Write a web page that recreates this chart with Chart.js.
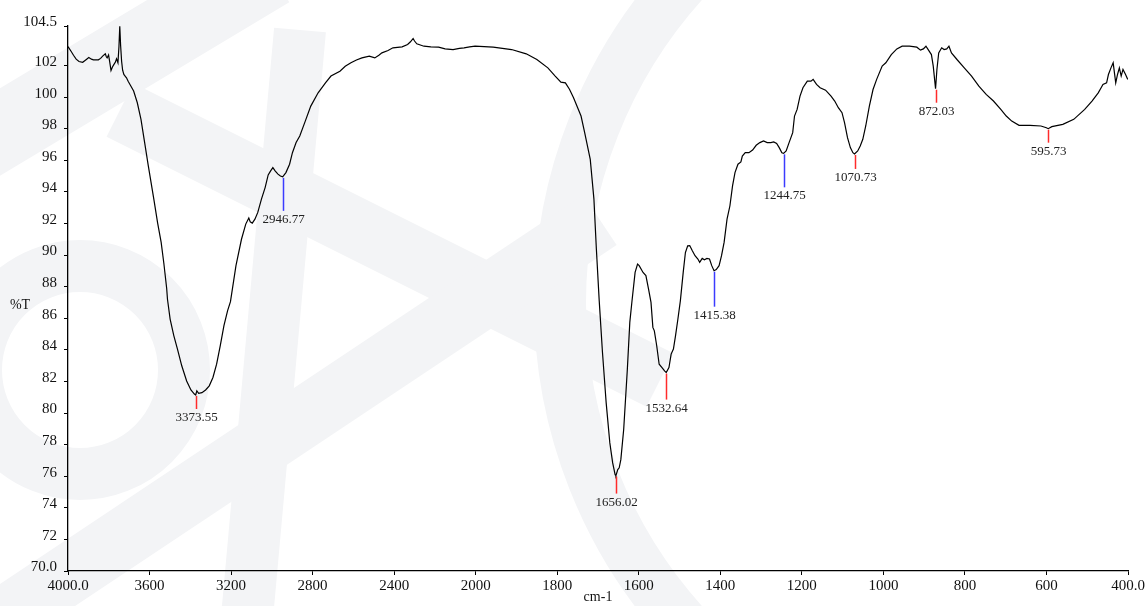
<!DOCTYPE html>
<html>
<head>
<meta charset="utf-8">
<script src="https://cdn.jsdelivr.net/npm/chart.js@4.4.1/dist/chart.umd.min.js"></script>
<style>
  html, body { margin: 0; padding: 0; background: #fff; }
  #wrap { width: 1148px; height: 606px; }
</style>
</head>
<body>
<div id="wrap"><canvas id="spectrum" width="1148" height="606"></canvas></div>
<script>
// IR spectrum: wavenumber (cm-1) and transmittance (%T)
const wavenumber = [
  4000, 3985, 3973, 3960, 3946, 3928, 3918, 3910, 3898, 3885, 3875, 3851, 3840, 3830, 3817, 3812, 3808, 3801,
  3795, 3789, 3782, 3776, 3768, 3762, 3755, 3750, 3746, 3742, 3737, 3732, 3726, 3718, 3713, 3705, 3696, 3678,
  3660, 3642, 3624, 3606, 3579, 3560, 3543, 3530, 3516, 3512, 3499, 3481, 3463, 3442, 3418, 3397, 3380, 3373.55,
  3368, 3359, 3343, 3325, 3307, 3289, 3271, 3253, 3235, 3217, 3203, 3176, 3149, 3128, 3113, 3106, 3096, 3083,
  3069, 3051, 3033, 3018, 3006, 2995, 2984, 2970, 2958, 2946.77, 2931, 2913, 2899, 2881, 2863, 2836, 2809, 2773,
  2737, 2710, 2666, 2640, 2612, 2585, 2558, 2522, 2495, 2475, 2460, 2430, 2406, 2361, 2334, 2320, 2307, 2300,
  2289, 2254, 2220, 2182, 2150, 2111, 2080, 2057, 2030, 2003, 1957, 1912, 1876, 1850, 1823, 1805, 1791, 1780,
  1770, 1760, 1741.6, 1732.7, 1719, 1710, 1704, 1697, 1689, 1680, 1671, 1664, 1658, 1656.02, 1651.5, 1648, 1644,
  1637, 1628, 1622, 1617, 1609, 1603, 1599, 1589.5, 1582.5, 1576, 1570, 1565.4, 1561.8, 1556, 1550, 1543, 1536.7,
  1532.64, 1526, 1520.6, 1515, 1509.8, 1504, 1498, 1491, 1485.6, 1480, 1475, 1468.6, 1462, 1455, 1450.6, 1444.4,
  1439, 1432.8, 1426.5, 1421, 1415.38, 1410, 1403, 1397, 1390.7, 1383.5, 1376.4, 1370, 1364, 1356.7, 1349.5, 1346,
  1338.8, 1329.8, 1320.8, 1312, 1303, 1294, 1285, 1276, 1269, 1261.8, 1255.5, 1249, 1244.75, 1238.5, 1231.3,
  1222.4, 1218, 1211.6, 1204.5, 1197.3, 1186.6, 1177.6, 1172.3, 1164, 1155.2, 1141.8, 1128.4, 1119.4, 1110.5,
  1101.5, 1095.3, 1088, 1081, 1074.8, 1070.73, 1063, 1056.8, 1050.5, 1043.3, 1034.4, 1025.4, 1016.5, 1003, 994,
  980.6, 967, 954, 936, 918, 909, 902, 895.6, 889.3, 882.2, 877.7, 872.03, 868.7, 864.3, 857, 851, 844.6, 839.2,
  833, 819.5, 801.6, 783.7, 765.8, 747.9, 730, 712, 698.6, 685.2, 667.3, 640.4, 613.6, 600.2, 595.73, 586.8,
  559.9, 533, 506.2, 488.3, 473, 465.9, 461.4, 452.5, 448, 441.8, 436.4, 430.1, 425.7, 421.2, 416.7, 412.3, 406,
  400.6
];
const transmittance = [
  103.2, 102.9, 102.65, 102.4, 102.25, 102.2, 102.3, 102.38, 102.5, 102.4, 102.36, 102.36, 102.45, 102.59, 102.74, 102.55, 102.48, 102.67,
  102.2, 101.68, 101.9, 102.04, 102.2, 102.42, 102.17, 103.2, 104.48, 103.3, 102.27, 101.7, 101.43, 101.3, 101.22, 101.0, 100.8, 100.38,
  99.64, 98.59, 97.12, 95.64, 93.54, 92.0, 90.8, 89.5, 87.9, 87.2, 85.95, 84.9, 84.05, 82.99, 82.03, 81.46, 81.2, 81.14,
  81.4, 81.25, 81.29, 81.46, 81.72, 82.25, 83.09, 84.26, 85.53, 86.48, 87.05, 89.33, 91.0, 91.96, 92.34, 92.1, 92.02, 92.27,
  92.7, 93.54, 94.27, 95.07, 95.33, 95.54, 95.33, 95.12, 95.0, 94.95, 95.22, 95.75, 96.48, 97.12, 97.54, 98.48, 99.43, 100.27,
  100.9, 101.33, 101.64, 101.95, 102.17, 102.35, 102.48, 102.59, 102.48, 102.65, 102.8, 102.95, 103.12, 103.18, 103.33, 103.5, 103.71, 103.55,
  103.37, 103.22, 103.18, 103.16, 103.05, 103.01, 103.08, 103.12, 103.18, 103.22, 103.16, 103.01, 102.74, 102.38, 101.85, 101.33, 100.95, 100.9,
  100.5, 99.96, 98.8, 97.75, 96.06, 93.54, 90.38, 87.1, 83.83, 80.66, 78.11, 76.84, 76.1, 76.04, 76.42, 76.53, 77.05,
  78.96, 82.78, 85.74, 87.0, 88.9, 89.43, 89.33, 88.9, 88.7, 87.85, 87.0, 85.42, 85.2, 84.26, 83.09, 82.88, 82.67,
  82.56, 82.88, 83.73, 84.05, 84.9, 85.95, 87.1, 88.9, 90.16, 90.58, 90.6, 90.27, 89.96, 89.75, 89.54, 89.79,
  89.7, 89.79, 89.75, 89.33, 89.01, 89.08, 89.33, 89.96, 90.8, 92.27, 93.12, 94.38, 95.22, 95.75, 95.89, 96.27,
  96.48, 96.48, 96.65, 96.95, 97.12, 97.22, 97.12, 97.12, 97.16, 97.07, 96.8, 96.48, 96.44, 96.59, 97.12,
  97.75, 98.8, 99.22, 100.06, 100.59, 101.01, 101.01, 101.12, 100.8, 100.59, 100.44, 100.06, 99.75, 99.33,
  99.01, 98.38, 97.43, 96.8, 96.48, 96.4, 96.59, 96.91, 97.33, 98.17, 99.43, 100.48, 101.12, 101.96, 102.17,
  102.69, 103.05, 103.22, 103.22, 103.16, 102.97, 103.05, 103.22, 102.97, 102.69, 101.96, 100.53, 101.75, 102.8, 103.12, 103.01, 103.05, 103.22,
  102.8, 102.38, 101.85, 101.33, 100.69, 100.17, 99.75, 99.22, 98.8, 98.48, 98.21, 98.21, 98.17, 98.06, 98.0, 98.13,
  98.27, 98.59, 99.22, 99.75, 100.27, 100.59, 100.8, 100.9, 101.43, 101.85, 102.17, 100.9, 101.43, 101.85, 101.33, 101.75, 101.43,
  101.12
];

// picked peaks: position, %T at the minimum, and whether it is a strong (red) or weak (blue) pick
const peakWavenumber = [3373.55, 2946.77, 1656.02, 1532.64, 1415.38, 1244.75, 1070.73, 872.03, 595.73];
const peakTransmittance = [81.14, 94.95, 76.04, 82.56, 89.01, 96.44, 96.4, 100.53, 98.0];
const peakKind = ['strong', 'weak', 'strong', 'strong', 'weak', 'weak', 'strong', 'strong', 'strong'];

// axis ticks
const xTickValues = [4000, 3600, 3200, 2800, 2400, 2000, 1800, 1600, 1400, 1200, 1000, 800, 600, 400];
const xTickLabels = ['4000.0', '3600', '3200', '2800', '2400', '2000', '1800', '1600', '1400', '1200', '1000', '800', '600', '400.0'];
const yTickValues = [70, 72, 74, 76, 78, 80, 82, 84, 86, 88, 90, 92, 94, 96, 98, 100, 102, 104.5];
const yTickLabels = ['70.0', '72', '74', '76', '78', '80', '82', '84', '86', '88', '90', '92', '94', '96', '98', '100', '102', '104.5'];

// ---- drawing settings ----
const SERIF = "'Liberation Serif', 'DejaVu Serif', serif";
const markColors = { strong: '#ff2b2b', weak: '#3b3bff' };
const markLength = [13, 33, 17, 26, 35, 33, 14, 13, 13];

// Wavenumber axis that runs high-to-low and doubles its scale below 2000 cm-1
const SPLIT = 2000, RATIO = 2;
class SplitWavenumberScale extends Chart.LinearScale {
  _span() { return (this.max - SPLIT) + (SPLIT - this.min) * RATIO; }
  _offsetOf(v) { return v >= SPLIT ? this.max - v : (this.max - SPLIT) + (SPLIT - v) * RATIO; }
  getPixelForValue(v) { return this.getPixelForDecimal(this._offsetOf(v) / this._span()); }
  getValueForPixel(p) {
    const o = this.getDecimalForPixel(p) * this._span();
    const hi = this.max - SPLIT;
    return o <= hi ? this.max - o : SPLIT - (o - hi) / RATIO;
  }
  buildTicks() { return xTickValues.map(v => ({ value: v })); }
}
SplitWavenumberScale.id = 'splitWavenumber';
SplitWavenumberScale.defaults = Chart.LinearScale.defaults;
Chart.register(SplitWavenumberScale);

// faint background emblem
const backdrop = {
  id: 'backdrop',
  beforeDraw(chart) {
    const c = chart.ctx;
    c.save();
    c.fillStyle = '#ffffff';
    c.fillRect(0, 0, chart.width, chart.height);
    c.strokeStyle = '#f3f4f6';
    c.lineCap = 'butt';
    c.lineWidth = 52;
    c.beginPath(); c.arc(80, 370, 104, 0, Math.PI * 2); c.stroke();
    c.lineWidth = 52;
    c.beginPath(); c.arc(1040, 303, 480, 0, Math.PI * 2); c.stroke();
    c.lineWidth = 75;
    c.beginPath(); c.moveTo(-30, 150); c.lineTo(270, -30); c.stroke();
    c.lineWidth = 52;
    c.beginPath(); c.moveTo(300, 30); c.lineTo(245, 640); c.stroke();
    c.lineWidth = 60;
    c.beginPath(); c.moveTo(120, 110); c.lineTo(660, 380); c.stroke();
    c.beginPath(); c.moveTo(-30, 640); c.lineTo(600, 220); c.stroke();
    c.restore();
  }
};

// peak pick ticks and their wavenumber labels
const peakMarks = {
  id: 'peakMarks',
  afterDatasetsDraw(chart) {
    const { ctx, scales: { x, y } } = chart;
    ctx.save();
    ctx.font = '13px ' + SERIF;
    ctx.textAlign = 'center';
    ctx.textBaseline = 'top';
    peakWavenumber.forEach((w, i) => {
      const px = Math.round(x.getPixelForValue(w)) + 0.5;
      const top = y.getPixelForValue(peakTransmittance[i]) + 1;
      const bottom = top + markLength[i];
      ctx.strokeStyle = markColors[peakKind[i]];
      ctx.lineWidth = 1.5;
      ctx.beginPath(); ctx.moveTo(px, top); ctx.lineTo(px, bottom); ctx.stroke();
      ctx.fillStyle = '#222';
      ctx.fillText(w.toFixed(2), px, bottom + 2);
    });
    ctx.restore();
  }
};

// horizontal %T caption beside the value axis
const yCaption = {
  id: 'yCaption',
  afterDraw(chart) {
    const c = chart.ctx;
    c.save();
    c.font = '14px ' + SERIF;
    c.fillStyle = '#111';
    c.textAlign = 'center';
    c.textBaseline = 'middle';
    c.fillText('%T', 20, 305);
    c.restore();
  }
};

const points = wavenumber.map((w, i) => ({ x: w, y: transmittance[i] }));

new Chart(document.getElementById('spectrum'), {
  type: 'line',
  data: {
    datasets: [{
      data: points,
      borderColor: '#000',
      borderWidth: 1.2,
      pointRadius: 0,
      tension: 0,
      fill: false
    }]
  },
  options: {
    responsive: false,
    animation: false,
    devicePixelRatio: 1,
    layout: { padding: { top: 26, right: 20, left: 0, bottom: 0 } },
    plugins: { legend: { display: false }, tooltip: { enabled: false }, title: { display: false } },
    scales: {
      x: {
        type: 'splitWavenumber',
        position: 'bottom',
        min: 400,
        max: 4000,
        border: { display: true, color: '#000', width: 1.3 },
        grid: { display: true, drawOnChartArea: false, drawTicks: true, tickLength: 4, color: '#000', lineWidth: 1 },
        ticks: {
          autoSkip: false, maxRotation: 0, padding: 2, color: '#111',
          font: { family: SERIF, size: 15 },
          callback: (v, i) => xTickLabels[i]
        },
        title: { display: true, text: 'cm-1', color: '#111', font: { family: SERIF, size: 14 }, padding: { top: 0, bottom: 0 } },
        afterFit: s => { s.height = 35; }
      },
      y: {
        type: 'linear',
        min: 70,
        max: 104.5,
        border: { display: true, color: '#000', width: 1.3 },
        grid: { display: true, drawOnChartArea: false, drawTicks: true, tickLength: 4, color: '#000', lineWidth: 1 },
        afterBuildTicks: s => { s.ticks = yTickValues.map(v => ({ value: v })); },
        ticks: {
          autoSkip: false, padding: 7, labelOffset: -3.5, color: '#111',
          font: { family: SERIF, size: 15 },
          callback: (v, i) => yTickLabels[i]
        },
        afterFit: s => { s.width = 68; }
      }
    }
  },
  plugins: [backdrop, peakMarks, yCaption]
});
</script>
</body>
</html>
